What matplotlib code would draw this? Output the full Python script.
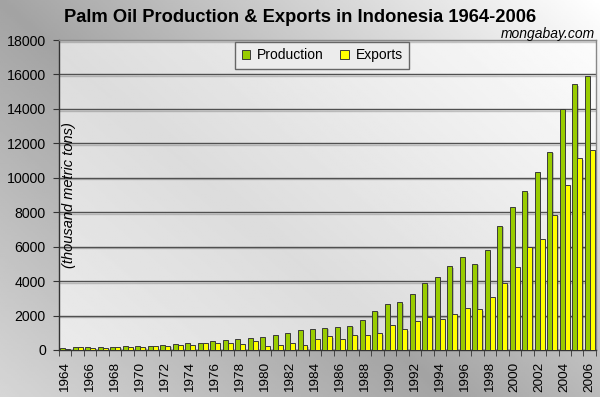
import numpy as np
import matplotlib
matplotlib.use("Agg")
import matplotlib.pyplot as plt
import matplotlib.patheffects as pe

# data (thousand metric tons)
years = list(range(1964, 2007))
production = [140, 170, 175, 175, 180, 215, 250, 255, 275, 350,
              390, 430, 510, 565, 645, 700, 780, 880, 980, 1170,
              1220, 1275, 1335, 1390, 1725, 2275, 2690, 2780, 3270, 3870,
              4240, 4850, 5380, 5010, 5800, 7200, 8320, 9210, 10310, 11510,
              14000, 15420, 15900]
exports = [80, 155, 140, 140, 175, 175, 195, 255, 255, 275,
           315, 390, 390, 390, 350, 510, 235, 295, 390, 275,
           665, 785, 665, 880, 880, 980, 1470, 1210, 1710, 1930,
           1820, 2070, 2420, 2360, 3060, 3870, 4800, 5980, 6420, 7850,
           9610, 11140, 11620]
y_ticks = list(range(0, 18001, 2000))

plt.rcParams['font.family'] = ['Liberation Sans', 'DejaVu Sans']

fig = plt.figure(figsize=(6, 3.97), dpi=100)
W, H = 600, 397


def shade(px, py):
    # dark band running from the top left corner down to the bottom,
    # light towards the top right and a bit lighter to the bottom left
    d = (px * 397 + (py - 397) * 450) / 600.1
    v = np.where(d > 0, 0.64 + 0.36 * d / 397, 0.64 - 0.2 * d / 298)
    return np.clip(v, 0, 1)


px, py = np.meshgrid(np.linspace(0, W, 300), np.linspace(H, 0, 200))
bg = fig.add_axes([0, 0, 1, 1], zorder=-10)
bg.imshow(shade(px, py), cmap='gray', vmin=0, vmax=1, aspect='auto',
          extent=[0, 1, 0, 1])
bg.axis('off')

left, bottom, width, height = 0.0983, 0.1184, 0.895, 0.7808
ax = fig.add_axes([left, bottom, width, height])
ax.patch.set_visible(False)
# plot area: a whitish veil over the same gradient
qx, qy = np.meshgrid(np.linspace(left * W, (left + width) * W, 300),
                     np.linspace((bottom + height) * H, bottom * H, 200))
ax.imshow(1 - 0.38 * (1 - shade(qx, qy)), cmap='gray', vmin=0, vmax=1,
          aspect='auto', extent=[0, 1, 0, 1], transform=ax.transAxes, zorder=0)

x = np.array(years)
w = 0.4
shadow = [pe.SimplePatchShadow(offset=(1, -1), alpha=0.25), pe.Normal()]
b1 = ax.bar(x - w / 2, production, w, color='#99cc00', edgecolor='#3a3a3a',
            linewidth=0.7, label='Production', zorder=3)
b2 = ax.bar(x + w / 2, exports, w, color='#ffff00', edgecolor='#3a3a3a',
            linewidth=0.7, label='Exports', zorder=3)
for b in list(b1) + list(b2):
    b.set_path_effects(shadow)

ax.set_xlim(1963.5, 2006.5)
ax.set_ylim(0, 18000)
ax.set_yticks(y_ticks)
ax.set_yticklabels([str(v) for v in y_ticks], fontsize=10.2)
ax.set_xticks(years[::2])
ax.set_xticklabels([str(v) for v in years[::2]], rotation=90, fontsize=9.7)
ax.set_xticks(np.arange(1963.5, 2007, 1), minor=True)
ax.tick_params(axis='x', which='major', length=0, pad=8.5)
ax.tick_params(axis='x', which='minor', length=4, color='#333333')
ax.tick_params(axis='y', length=4, color='#333333', pad=5.5)

ax.yaxis.grid(True, color='#505050', linewidth=1.0, zorder=1)
for gl in ax.get_ygridlines():
    gl.set_path_effects([pe.SimpleLineShadow(offset=(0, -1.2), alpha=0.2,
                                             shadow_color='k'), pe.Normal()])
ax.set_axisbelow(True)

for s in ['top', 'right']:
    ax.spines[s].set_color('#888888')
    ax.spines[s].set_linewidth(1.0)
for s in ['left', 'bottom']:
    ax.spines[s].set_color('#333333')
    ax.spines[s].set_linewidth(1.0)

ax.text(0.019, 0.5, '(thousand metric tons)', transform=ax.transAxes,
        rotation=90, ha='center', va='center', fontsize=10.5, style='italic',
        zorder=5)

leg = ax.legend(loc='upper center', bbox_to_anchor=(0.49, 0.993), ncol=2,
                fontsize=10, frameon=True, fancybox=False, handlelength=0.6,
                handleheight=0.6, handletextpad=0.5, columnspacing=1.2,
                borderpad=0.45, borderaxespad=0)
leg.get_frame().set_facecolor('#ececec')
leg.get_frame().set_edgecolor('#666666')
leg.get_frame().set_alpha(1)
for h in leg.legend_handles:
    h.set_path_effects([])

fig.text(0.5, 0.955, 'Palm Oil Production & Exports in Indonesia 1964-2006',
         ha='center', va='center', fontsize=13.2, fontweight='bold')
fig.text(0.992, 0.915, 'mongabay.com', ha='right', va='center', fontsize=10,
         style='italic')

fig.savefig('out.png', dpi=100)
